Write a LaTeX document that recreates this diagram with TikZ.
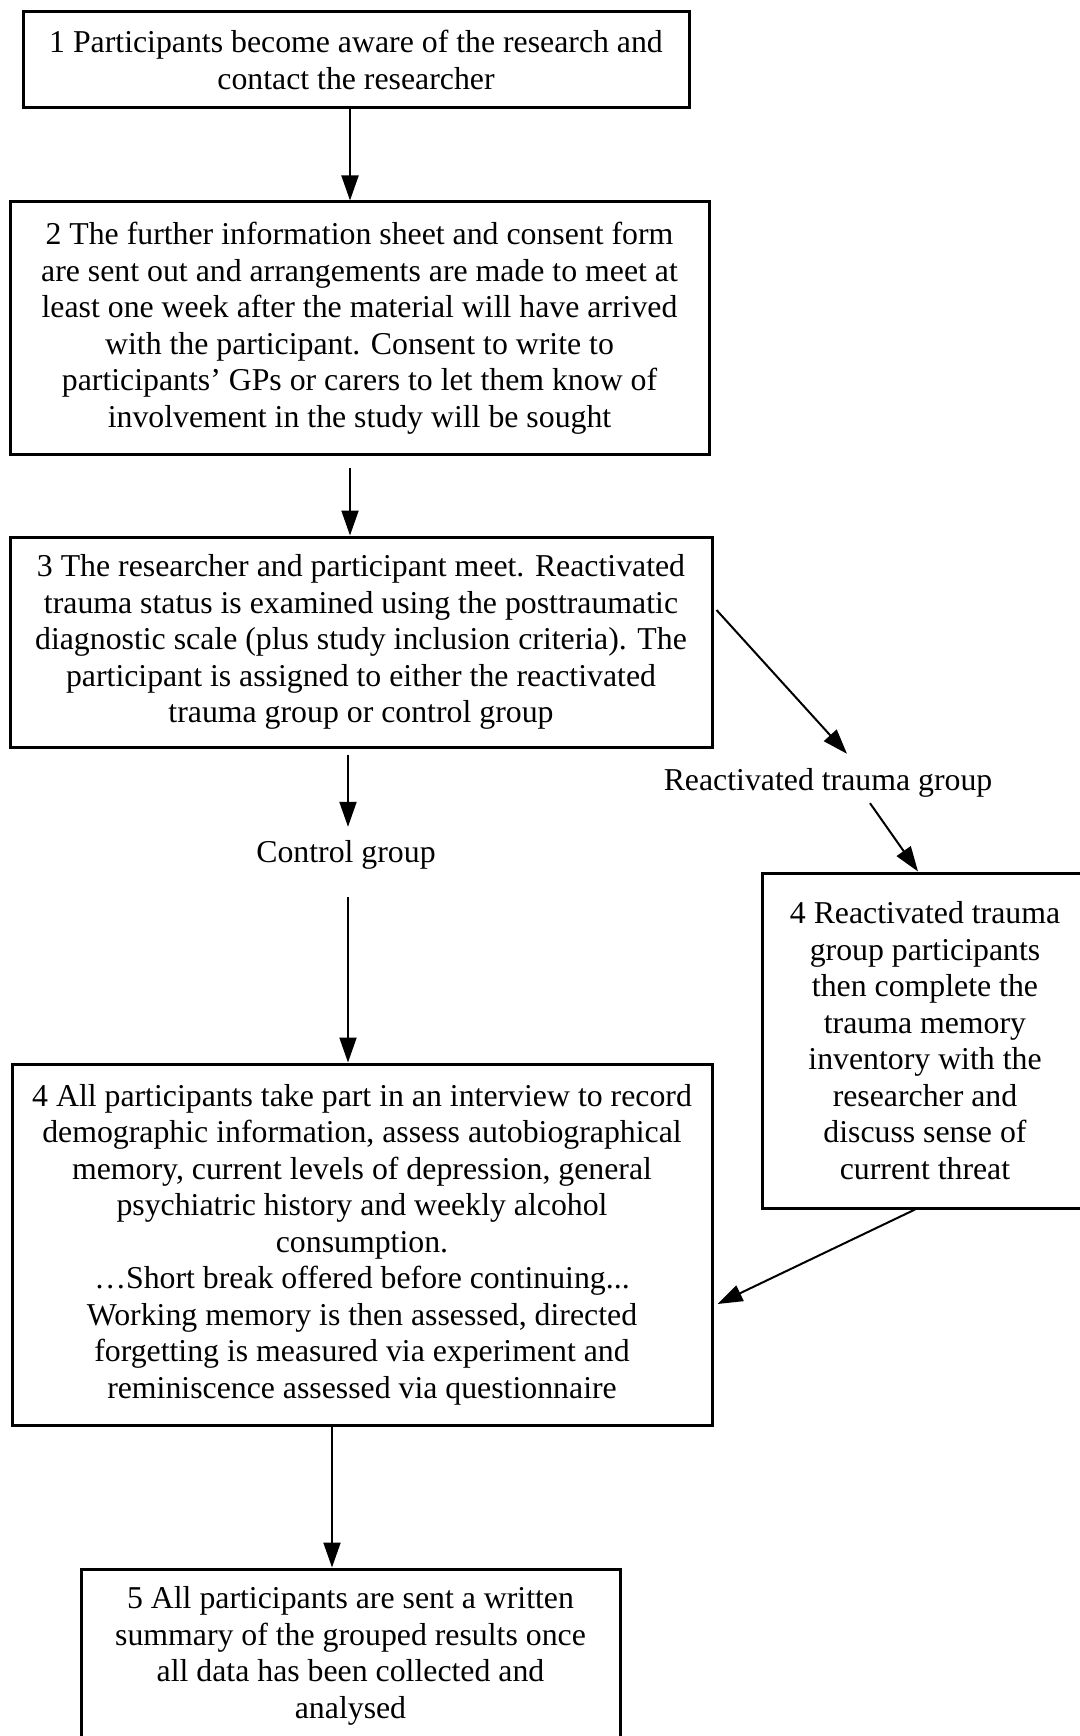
\documentclass[tikz,border=0pt]{standalone}
\usepackage{fontspec}
\setmainfont{Liberation Serif}
\usetikzlibrary{arrows.meta}
\begin{document}
\begin{tikzpicture}[x=1pt,y=-1pt,
  every node/.style={font=\fontsize{31.8}{36.5}\selectfont},
  box/.style={draw=black,line width=3pt,rectangle,inner sep=0pt,align=center,anchor=center},
  lbl/.style={inner sep=0pt,text height=22pt,text depth=7pt,anchor=base},
  arr/.style={draw=black,line width=2pt,-{Triangle[length=25pt,width=17pt]}}]
\fill[white] (0,0) rectangle (1079,1736);
\useasboundingbox (0,0) rectangle (1079,1736);

\node[box,minimum width=666pt,minimum height=96pt] (b1) at (356,60)
 {1 Participants become aware of the research and\\contact the researcher};
\node[box,minimum width=699pt,minimum height=252pt] (b2) at (359.5,328)
 {2 The further information sheet and consent form\\are sent out and arrangements are made to meet at\\least one week after the material will have arrived\\with the participant. Consent to write to\\participants’ GPs or carers to let them know of\\involvement in the study will be sought};
\node[box,minimum width=702pt,minimum height=210pt] (b3) at (361,642)
 {3 The researcher and participant meet. Reactivated\\trauma status is examined using the posttraumatic\\diagnostic scale (plus study inclusion criteria). The\\participant is assigned to either the reactivated\\trauma group or control group};
\node[lbl] (ctrl) at (346,862) {Control group};
\node[lbl] (rtg) at (828,790) {Reactivated trauma group};
\node[box,minimum width=326pt,minimum height=335pt] (b4r) at (925,1040.5)
 {4 Reactivated trauma\\group participants\\then complete the\\trauma memory\\inventory with the\\researcher and\\discuss sense of\\current threat};
\node[box,minimum width=700pt,minimum height=361pt] (b4) at (362,1244.5)
 {4 All participants take part in an interview to record\\demographic information, assess autobiographical\\memory, current levels of depression, general\\psychiatric history and weekly alcohol\\consumption.\\…Short break offered before continuing...\\Working memory is then assessed, directed\\forgetting is measured via experiment and\\reminiscence assessed via questionnaire};
\node[box,minimum width=539pt,minimum height=174pt] (b5) at (350.5,1656)
 {5 All participants are sent a written\\summary of the grouped results once\\all data has been collected and\\analysed};

\draw[arr] ([xshift=-6pt]b1.south) -- ([xshift=-6pt]b1.south |- b2.north);
\draw[arr,shorten <=12pt] ([xshift=-9.5pt]b2.south) -- ([xshift=-9.5pt]b2.south |- b3.north);
\draw[arr,shorten <=6pt,shorten >=13pt] ([xshift=-13pt]b3.south) -- ([xshift=-13pt]b3.south |- ctrl.north);
\draw[arr,shorten <=28pt] ([xshift=2pt]ctrl.south) -- ([xshift=2pt]ctrl.south |- b4.north);
\draw[arr] ([xshift=3pt,yshift=32pt]b3.east) -- ([xshift=19pt,yshift=14pt]rtg.north);
\draw[arr] ([xshift=42pt,yshift=-6pt]rtg.south) -- ([xshift=-7pt]b4r.north);
\draw[arr] ([xshift=-10pt]b4r.south) -- ([xshift=4pt,yshift=-59.5pt]b4.east);
\draw[arr] ([xshift=-30pt]b4.south) -- ([xshift=-30pt]b4.south |- b5.north);
\end{tikzpicture}
\end{document}
